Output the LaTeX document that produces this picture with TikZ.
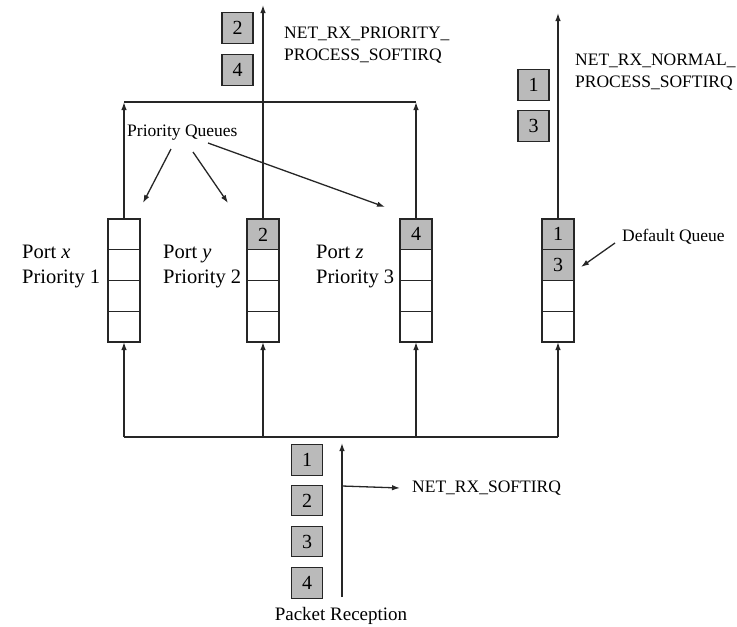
\documentclass[tikz,border=0pt]{standalone}
\usepackage{fontspec}
\setmainfont{Liberation Serif}
\usetikzlibrary{arrows.meta}
\begin{document}
\begin{tikzpicture}[x=1pt,y=-1pt,
  cell/.style={draw=black!85, line width=1.2pt, minimum width=32pt, minimum height=30.75pt, inner sep=0pt, outer sep=0pt, font=\fontsize{20}{20}\selectfont},
  full/.style={cell, fill=black!27},
  pkt/.style={full, minimum width=31pt, minimum height=30.5pt},
  conn/.style={draw=black!85, line width=1.3pt},
  arr/.style={conn, -{Latex[length=8pt,width=5.5pt]}},
  lbl/.style={font=\fontsize{17.5}{22}\selectfont, inner sep=0pt, anchor=west, align=left},
  portlbl/.style={font=\fontsize{20.5}{25}\selectfont, inner sep=0pt, anchor=west, align=left}]
\useasboundingbox (0,0) rectangle (737,627);

% queue 1 (Port x)
\node[cell] (q1a) at (124,234.375) {};
\node[cell] (q1b) at (124,265.125) {};
\node[cell] (q1c) at (124,295.875) {};
\node[cell] (q1d) at (124,326.625) {};
% queue 2 (Port y)
\node[full] (q2a) at (263,234.375) {2};
\node[cell] (q2b) at (263,265.125) {};
\node[cell] (q2c) at (263,295.875) {};
\node[cell] (q2d) at (263,326.625) {};
% queue 3 (Port z)
\node[full] (q3a) at (416,234.375) {4};
\node[cell] (q3b) at (416,265.125) {};
\node[cell] (q3c) at (416,295.875) {};
\node[cell] (q3d) at (416,326.625) {};
% queue 4 (default)
\node[full] (q4a) at (558,234.375) {1};
\node[full] (q4b) at (558,265.125) {3};
\node[cell] (q4c) at (558,295.875) {};
\node[cell] (q4d) at (558,326.625) {};

% port labels
\node[portlbl] (px) at (22,266.5) {Port \textit{x}\\Priority 1};
\node[portlbl] (py) at (163,266.5) {Port \textit{y}\\Priority 2};
\node[portlbl] (pz) at (316,266.5) {Port \textit{z}\\Priority 3};

% top part
\coordinate (t1) at (124,102);
\coordinate (t3) at (416,102);
\coordinate (top2) at (263,5);
\coordinate (top4) at (558,13);
\draw[conn] (t1) -- (t3);
\draw[arr] (q1a.north) -- (t1);
\draw[arr] (q3a.north) -- (t3);
\draw[arr] (q2a.north) -- (top2);
\draw[arr] (q4a.north) -- (top4);

\node[pkt] (h2) at (237.5,28) {2};
\node[pkt] (h4) at (237.5,70) {4};
\node[lbl] (prio) at (284,45) {NET\_RX\_PRIORITY\_\\PROCESS\_SOFTIRQ};

\node[pkt] (n1) at (533.5,85) {1};
\node[pkt] (n3) at (533.5,126) {3};
\node[lbl] (norm) at (575,72.5) {NET\_RX\_NORMAL\_\\PROCESS\_SOFTIRQ};

% priority queues label
\node[lbl] (pq) at (127,133) {Priority Queues};
\coordinate (pqa) at (171,149);
\coordinate (pqb) at (193,152);
\coordinate (pqc) at (208,143);
\coordinate (e1) at (143,203);
\coordinate (e2) at (228,203);
\coordinate (e3) at (385,207);
\draw[arr] (pqa) -- (e1);
\draw[arr] (pqb) -- (e2);
\draw[arr] (pqc) -- (e3);

% default queue label
\node[lbl] (dq) at (622,237) {Default Queue};
\coordinate (dqs) at (615,243);
\coordinate (dqe) at (581,267);
\draw[arr] (dqs) -- (dqe);

% bottom bus
\coordinate (b1) at (124,437);
\coordinate (b4) at (558,437);
\draw[conn] (b1) -- (b4);
\draw[arr] (b1) -- (q1d.south);
\draw[arr] (q2d.south |- b1) -- (q2d.south);
\draw[arr] (q3d.south |- b1) -- (q3d.south);
\draw[arr] (b4) -- (q4d.south);

% source
\coordinate (src) at (342,597);
\coordinate (srctop) at (342,443);
\draw[arr] (src) -- (srctop);
\node[lbl] (soft) at (412,488) {NET\_RX\_SOFTIRQ};
\coordinate (br) at (342,486);
\draw[arr] (br) -- ([xshift=-12pt]soft.west);

\node[pkt] (p1) at (307,460) {1};
\node[pkt] (p2) at (307,500.5) {2};
\node[pkt] (p3) at (307,541.5) {3};
\node[pkt] (p4) at (307,583) {4};

\node[font=\fontsize{19}{19}\selectfont, inner sep=0pt] (rec) at (341,616) {Packet Reception};
\end{tikzpicture}
\end{document}
